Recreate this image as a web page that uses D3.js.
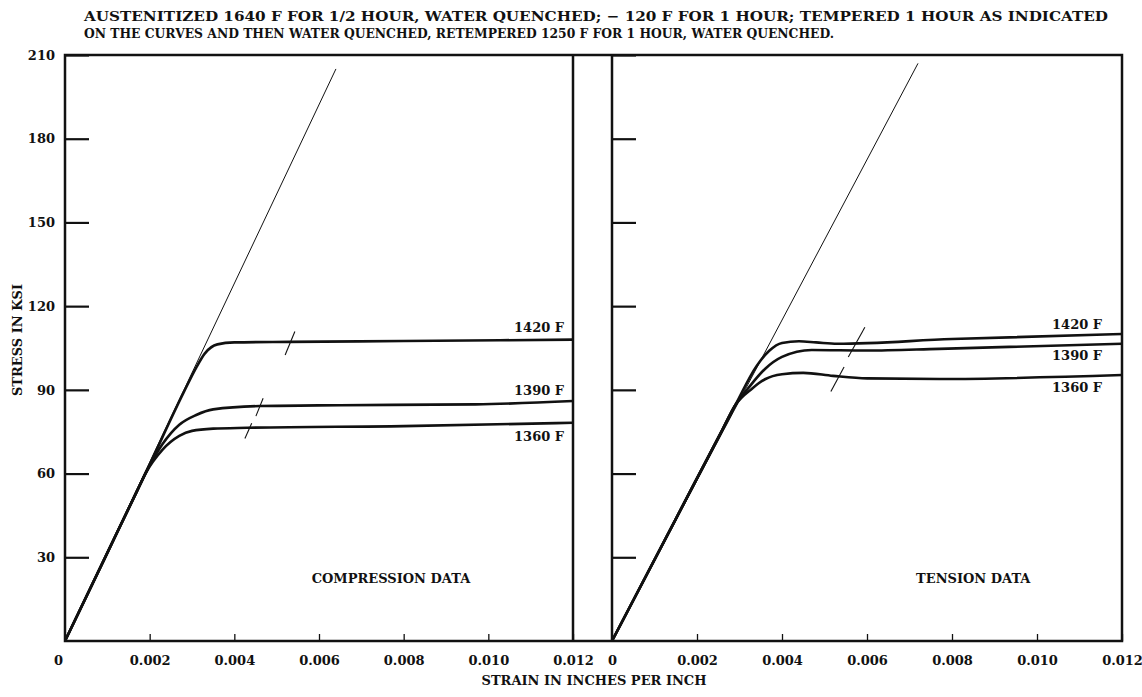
<!DOCTYPE html>
<html>
<head>
<meta charset="utf-8">
<script src="https://cdn.jsdelivr.net/npm/d3@7"></script>
<style>
  body { margin: 0; background: #fff; }
  text { font-family: "DejaVu Serif", "Liberation Serif", serif; fill: #111; }
</style>
</head>
<body>
<div id="chart"></div>
<script>
const titleLines = [
  "AUSTENITIZED 1640 F FOR 1/2 HOUR, WATER QUENCHED; \u2212 120 F FOR 1 HOUR; TEMPERED 1 HOUR AS INDICATED",
  "ON THE CURVES AND THEN WATER QUENCHED, RETEMPERED 1250 F FOR 1 HOUR, WATER QUENCHED."
];
const yTicks = [30, 60, 90, 120, 150, 180, 210];
const xTicks = [0, 0.002, 0.004, 0.006, 0.008, 0.010, 0.012];
const tempLabels = ["1420 F", "1390 F", "1360 F"];

// compression data (strain, ksi)
const comp1420Strain = [0, 0.001, 0.0019, 0.0028, 0.0031, 0.0033, 0.0036, 0.004, 0.0053, 0.008, 0.012];
const comp1420Stress = [0, 31.6, 60, 89, 98, 103, 106.3, 107, 107.2, 107.5, 108];
const comp1390Strain = [0, 0.001, 0.0017, 0.0019, 0.0023, 0.0027, 0.0031, 0.0035, 0.0046, 0.0065, 0.0097, 0.012];
const comp1390Stress = [0, 31.6, 53.7, 60, 70.5, 77.5, 81, 83, 84.2, 84.5, 84.8, 86];
const comp1360Strain = [0, 0.001, 0.0017, 0.0019, 0.0023, 0.0027, 0.003, 0.0035, 0.0043, 0.008, 0.012];
const comp1360Stress = [0, 31.6, 53.7, 60, 68.5, 73.5, 75.3, 76.1, 76.4, 77, 78.2];
const compModulus = [[0, 0], [0.0064, 205]];
const compYield = [
  [[0.0052, 102.5], [0.00543, 110.9]],
  [[0.00451, 80.6], [0.00468, 87]],
  [[0.00425, 72.6], [0.00441, 78]]
];
const compLabelStress = [112, 89.4, 73];

// tension data (strain, ksi)
const tens1420Strain = [0, 0.0015, 0.0026, 0.0029, 0.0034, 0.0037, 0.004, 0.0044, 0.0048, 0.0053, 0.008, 0.012];
const tens1420Stress = [0, 43.7, 75.8, 84.5, 98.5, 104, 106.8, 107.4, 107, 106.5, 108.2, 110];
const tens1390Strain = [0, 0.0015, 0.0026, 0.0029, 0.0032, 0.0036, 0.004, 0.0047, 0.006, 0.0077, 0.012];
const tens1390Stress = [0, 43.7, 75.8, 84.5, 90.5, 97.5, 101.8, 104.3, 104.1, 104.7, 106.5];
const tens1360Strain = [0, 0.0015, 0.0026, 0.0029, 0.0033, 0.0036, 0.004, 0.0045, 0.0052, 0.006, 0.0077, 0.012];
const tens1360Stress = [0, 43.7, 75.8, 84.5, 90.5, 93.8, 95.6, 96.1, 95, 94.1, 93.9, 95.3];
const tensModulus = [[0, 0], [0.0072, 207]];
const tensYield = [
  [[0.00595, 112.4], [0.00556, 101.8]],
  [[0.00546, 98.2], [0.00515, 89.4]]
];
const tensLabelStress = [112.9, 101.8, 90.4];

const width = 1142, height = 697;
const plotTop = 55, plotBottom = 641;

function zip(xs, ys) {
  return xs.map((x, i) => [x, ys[i]]);
}

let svg = d3.select("#chart").append("svg").attr("width", width).attr("height", height);

let y = d3.scaleLinear().domain([0, 210]).range([plotBottom, plotTop]);
let xLeft = d3.scaleLinear().domain([0, 0.012]).range([65, 573]);
let xRight = d3.scaleLinear().domain([0, 0.012]).range([612, 1122]);

svg.append("g").selectAll("text").data(titleLines).join("text")
  .attr("x", 84).attr("y", (d, i) => 17 + i * 17)
  .attr("dominant-baseline", "middle")
  .attr("font-size", 13.5).attr("font-weight", "bold")
  .attr("textLength", (d, i) => i === 0 ? 1024 : 750)
  .attr("lengthAdjust", "spacingAndGlyphs")
  .text(d => d);

function drawPanel(x, showLabels, series, modulus, yields, labelStress, labelInset, name, nameAt) {
  let g = svg.append("g");
  let yAxis = d3.axisLeft(y).tickValues(yTicks).tickSizeInner(-24).tickSizeOuter(0).tickPadding(10)
    .tickFormat(showLabels ? d3.format("d") : "");
  let ya = g.append("g").attr("transform", `translate(${x.range()[0]},0)`).call(yAxis);
  ya.select(".domain").remove();
  ya.selectAll(".tick line").attr("stroke", "#111").attr("stroke-width", 2.2);
  ya.selectAll("text").attr("font-size", 13).attr("font-weight", "bold").attr("fill", "#111");

  let xAxis = d3.axisBottom(x).tickValues(xTicks).tickSizeInner(-7).tickSizeOuter(0).tickPadding(15)
    .tickFormat(d => d === 0 ? "0" : d3.format(".3f")(d));
  let xa = g.append("g").attr("transform", `translate(0,${plotBottom})`).call(xAxis);
  xa.select(".domain").remove();
  xa.selectAll(".tick line").attr("stroke", "#111").attr("stroke-width", 1.3);
  xa.selectAll("text").attr("font-size", 13).attr("font-weight", "bold").attr("fill", "#111");
  if (showLabels) xa.selectAll(".tick").filter(d => d === 0).select("text").attr("x", -7);

  let line = d3.line().x(d => x(d[0])).y(d => y(d[1])).curve(d3.curveMonotoneX);
  g.selectAll(".curve").data(series).join("path")
    .attr("d", line).attr("fill", "none").attr("stroke", "#111").attr("stroke-width", 2.6);

  let straight = d3.line().x(d => x(d[0])).y(d => y(d[1]));
  g.append("path").attr("d", straight(modulus)).attr("fill", "none").attr("stroke", "#111").attr("stroke-width", 1);
  g.selectAll(".yield").data(yields).join("path")
    .attr("d", straight).attr("fill", "none").attr("stroke", "#111").attr("stroke-width", 1.1);

  g.selectAll(".temp").data(tempLabels).join("text")
    .attr("x", x.range()[1] - labelInset).attr("y", (d, i) => y(labelStress[i]))
    .attr("text-anchor", "end").attr("dominant-baseline", "middle")
    .attr("font-size", 13).attr("font-weight", "bold")
    .text(d => d);

  g.append("text").attr("x", x(nameAt)).attr("y", y(22))
    .attr("text-anchor", "middle").attr("dominant-baseline", "middle")
    .attr("font-size", 13).attr("font-weight", "bold")
    .text(name);
}

drawPanel(xLeft, true,
  [zip(comp1420Strain, comp1420Stress), zip(comp1390Strain, comp1390Stress), zip(comp1360Strain, comp1360Stress)],
  compModulus, compYield, compLabelStress, 9, "COMPRESSION DATA", 0.0077);
drawPanel(xRight, false,
  [zip(tens1420Strain, tens1420Stress), zip(tens1390Strain, tens1390Stress), zip(tens1360Strain, tens1360Stress)],
  tensModulus, tensYield, tensLabelStress, 20, "TENSION DATA", 0.0085);

// frame
let frame = svg.append("g").attr("stroke", "#111").attr("stroke-width", 2.5).attr("fill", "none");
frame.append("rect").attr("x", 65).attr("y", plotTop).attr("width", 1122 - 65).attr("height", plotBottom - plotTop);
frame.append("line").attr("x1", 573).attr("x2", 573).attr("y1", plotTop).attr("y2", plotBottom);
frame.append("line").attr("x1", 612).attr("x2", 612).attr("y1", plotTop).attr("y2", plotBottom);

svg.append("text").attr("x", 594).attr("y", 681)
  .attr("text-anchor", "middle").attr("dominant-baseline", "middle")
  .attr("font-size", 13).attr("font-weight", "bold")
  .text("STRAIN IN INCHES PER INCH");

svg.append("text").attr("transform", "translate(18,340) rotate(-90)")
  .attr("text-anchor", "middle").attr("dominant-baseline", "middle")
  .attr("font-size", 13).attr("font-weight", "bold")
  .text("STRESS IN KSI");
</script>
</body>
</html>
